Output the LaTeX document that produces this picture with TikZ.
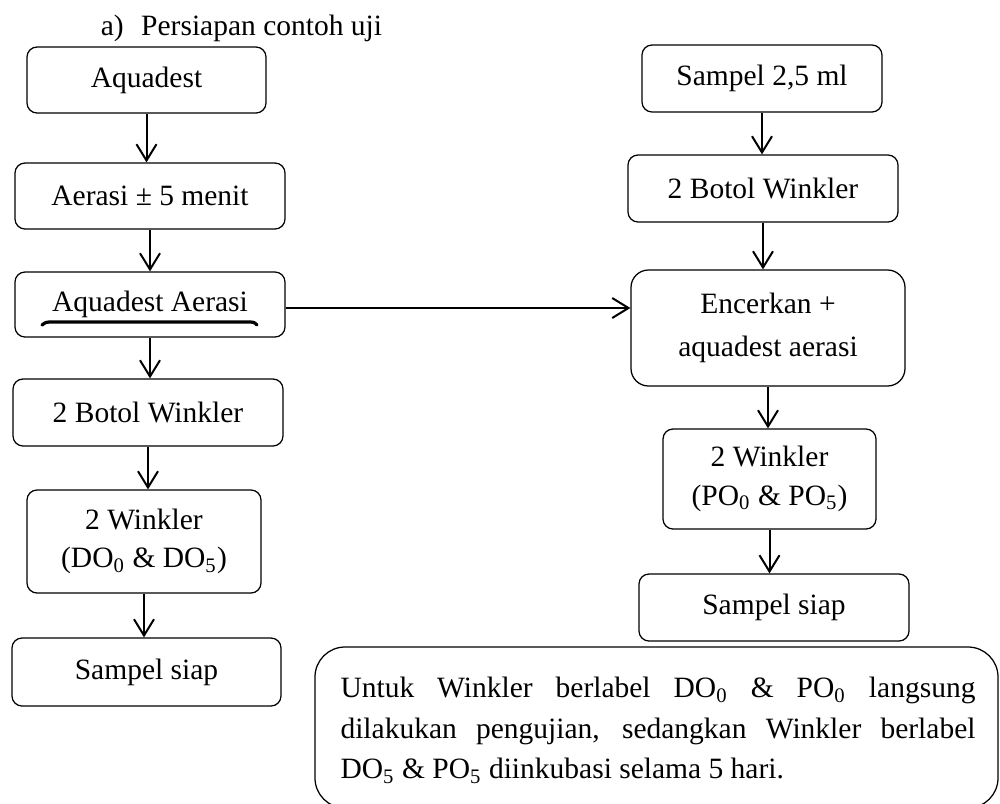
\documentclass[tikz,border=0pt]{standalone}
\usepackage{fontspec}
\setmainfont{Liberation Serif}
\usepackage{tikz}
\usetikzlibrary{positioning,arrows.meta,calc}

\tikzset{
  box/.style={draw, rectangle, rounded corners=4pt, align=center, inner sep=0pt, line width=0.5pt},
  arr/.style={-{Straight Barb[length=6.5pt,width=8pt]}, line width=0.8pt},
}

\begin{document}
\begin{tikzpicture}[x=0.4pt, y=-0.4pt, every node/.style={font=\fontsize{11.8}{15.5}\selectfont}]
  \useasboundingbox (0,0) rectangle (1000,803);

\node (judul) at (92,35) [anchor=base west] {a)\hspace{7pt}Persiapan contoh uji};

  % kolom kiri
\node (aquadest) at (146.5,80) [box, minimum width=95.6pt, minimum height=26.4pt] {Aquadest};

\node (aerasi) at (150,196) [box, minimum width=108pt, minimum height=26.4pt] {Aerasi ± 5 menit};

\node (aqaerasi) at (150,304.5) [box, minimum width=108pt, minimum height=26pt] {Aquadest Aerasi};
  \draw[line width=1.3pt, line cap=round] (42,325) .. controls (46,322) .. (53,322) -- (247,322) .. controls (254,322) .. (257,325);

\node (botol1) at (148,412.5) [box, minimum width=108pt, minimum height=26.8pt] {2 Botol Winkler};

\node (winkdo) at (144,541.5) [box, minimum width=93.6pt, minimum height=41.2pt] {2 Winkler\\(DO\textsubscript{0} \& DO\textsubscript{5})};

\node (siap1) at (146.5,672) [box, minimum width=107.6pt, minimum height=27.2pt] {Sampel siap};

  % kolom kanan
\node (sampel) at (762,78.5) [box, minimum width=96pt, minimum height=26.8pt] {Sampel 2,5 ml};

\node (botol2) at (763,188.5) [box, minimum width=108pt, minimum height=26.8pt] {2 Botol Winkler};

\node (encer) at (768,328) [box, rounded corners=7pt, minimum width=109.6pt, minimum height=46.4pt, font=\fontsize{11.8}{17}\selectfont] {Encerkan +\\aquadest aerasi};

\node (winkpo) at (769.5,479) [box, minimum width=85.2pt, minimum height=40pt] {2 Winkler\\(PO\textsubscript{0} \& PO\textsubscript{5})};

\node (siap2) at (774,607.5) [box, minimum width=108pt, minimum height=26.8pt] {Sampel siap};

  % catatan
  \draw[line width=0.5pt, rounded corners=12pt] (315,647) rectangle (998,808);
\node (catatan) at (340,677) [anchor=north west, text width=254pt, align=justify, inner sep=0pt, font=\fontsize{11.8}{16.2}\selectfont] {\hyphenpenalty=10000 Untuk Winkler berlabel DO\textsubscript{0} \& PO\textsubscript{0} langsung\linebreak dilakukan pengujian, sedangkan Winkler berlabel\linebreak DO\textsubscript{5} \& PO\textsubscript{5} diinkubasi selama 5 hari.};

  \draw[arr] (aquadest.south) -- (aquadest.south |- aerasi.north);
  \draw[arr] (aerasi.south) -- (aerasi.south |- aqaerasi.north);
  \draw[arr] (aqaerasi.south) -- (aqaerasi.south |- botol1.north);
  \draw[arr] (botol1.south) -- (botol1.south |- winkdo.north);
  \draw[arr] (winkdo.south) -- (winkdo.south |- siap1.north);

  \draw[arr] (sampel.south) -- (sampel.south |- botol2.north);
  \draw[arr] (botol2.south) -- (botol2.south |- encer.north);
  \draw[arr] (encer.south) -- (encer.south |- winkpo.north);
  \draw[arr] (winkpo.south) -- (winkpo.south |- siap2.north);

  \coordinate (kanan) at ($(aqaerasi.east)+(0,3.5)$);
  \draw[arr] (kanan) -- (kanan -| encer.west);
\end{tikzpicture}
\end{document}
